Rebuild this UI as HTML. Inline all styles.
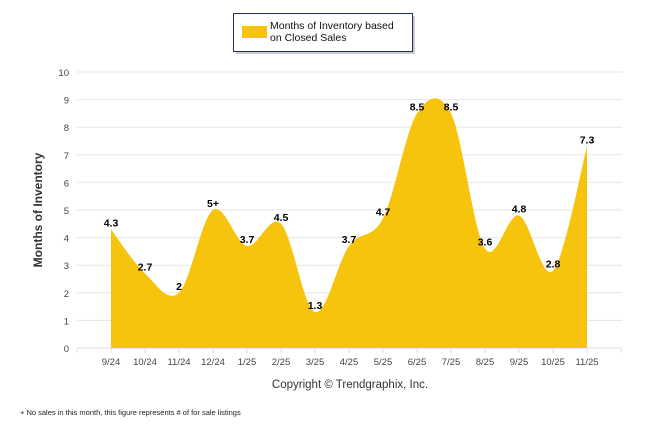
<!DOCTYPE html>
<html><head><meta charset="utf-8"><style>
body{margin:0;background:#fff;width:646px;height:434px;overflow:hidden;font-family:"Liberation Sans",sans-serif}
</style></head><body>
<svg width="646" height="434" font-family="Liberation Sans, sans-serif">
<g>
<rect x="236" y="16" width="179" height="38" fill="#999" opacity="0.5"/>
<rect x="233.5" y="13.5" width="179" height="38" fill="#fff" stroke="#1f2f55" stroke-width="1"/>
<rect x="242" y="26" width="25" height="12" fill="#f6c40c"/>
<text x="270" y="29" font-size="10.5" fill="#111">Months of Inventory based</text>
<text x="270" y="41" font-size="10.5" fill="#111">on Closed Sales</text>
</g>
<g id="grid"></g>
<g id="yticks"></g>
<path id="area" fill="#f6c40c"/>
<g id="xaxis"></g>
<g id="labels"></g>
<text x="0" y="0" transform="translate(42,210) rotate(-90)" text-anchor="middle" font-size="12" font-weight="bold" fill="#333">Months of Inventory</text>
<text x="350" y="388" text-anchor="middle" font-size="11.5" fill="#333">Copyright © Trendgraphix, Inc.</text>
<text x="20" y="415" font-size="7.5" fill="#222">+  No sales in this month, this figure represents # of for sale listings</text>
</svg>
<script>
const categories=["9/24","10/24","11/24","12/24","1/25","2/25","3/25","4/25","5/25","6/25","7/25","8/25","9/25","10/25","11/25"];
const values=[4.3,2.7,2,5,3.7,4.5,1.3,3.7,4.7,8.5,8.5,3.6,4.8,2.8,7.3];
const valueLabels=["4.3","2.7","2","5+","3.7","4.5","1.3","3.7","4.7","8.5","8.5","3.6","4.8","2.8","7.3"];
const yTicks=[0,1,2,3,4,5,6,7,8,9,10];
const NS="http://www.w3.org/2000/svg";
const X=i=>111+34*i, Y=v=>348-27.6*v;
function mk(t,a,p){const e=document.createElementNS(NS,t);for(const k in a)e.setAttribute(k,a[k]);p.appendChild(e);return e;}
const grid=document.getElementById('grid'),yt=document.getElementById('yticks');
yTicks.forEach(v=>{
 const l=mk('line',{x1:77,x2:622,y1:Y(v),y2:Y(v),stroke:v===0?'#ddd':'#e6e6e6','stroke-width':1},grid);
 
 
 const t=mk('text',{x:69,y:Y(v)+4,'text-anchor':'end','font-size':9.5,fill:'#444'},yt);
 t.textContent=v;
 
 
});
const xa=document.getElementById('xaxis');
for(let k=0;k<=16;k++){mk('line',{x1:77+34*k,x2:77+34*k,y1:348,y2:353,stroke:'#ddd'},xa);}
categories.forEach((c,i)=>{
 const t=mk('text',{x:X(i),y:365,'text-anchor':'middle','font-size':9.5,fill:'#444'},xa);
 t.textContent=c;
 
 
});
// Catmull-Rom spline (unclamped, overshoots like reference)
const pts=values.map((v,i)=>({x:X(i),y:Y(v)}));
const k=1/6;
let d=`M${pts[0].x},${Y(0)} L${pts[0].x},${pts[0].y}`;
for(let i=0;i<pts.length-1;i++){
 const p0=pts[Math.max(i-1,0)],p1=pts[i],p2=pts[i+1],p3=pts[Math.min(i+2,pts.length-1)];
 const c1x=p1.x+(p2.x-p0.x)*k,c1y=p1.y+(p2.y-p0.y)*k;
 const c2x=p2.x-(p3.x-p1.x)*k,c2y=p2.y-(p3.y-p1.y)*k;
 d+=` C${c1x},${c1y} ${c2x},${c2y} ${p2.x},${p2.y}`;
}
d+=` L${pts[pts.length-1].x},${Y(0)} Z`;
document.getElementById('area').setAttribute('d',d);
const lb=document.getElementById('labels');
values.forEach((v,i)=>{
 const t=mk('text',{x:X(i),y:Y(v)-3,'text-anchor':'middle','font-size':10.5,'font-weight':'bold',fill:'#000'},lb);
 t.textContent=valueLabels[i];
 
 
});
</script>
</body></html>
